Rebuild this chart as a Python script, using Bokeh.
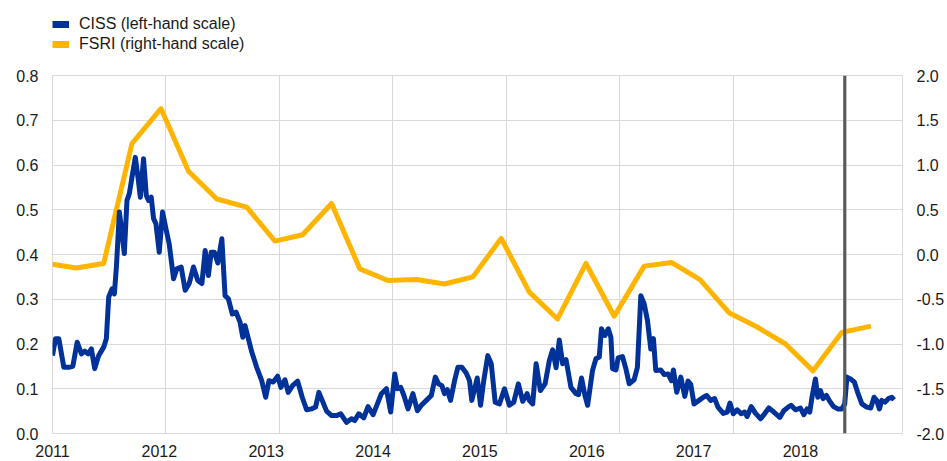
from bokeh.plotting import figure
from bokeh.models import Range1d, LinearAxis, FixedTicker, Span, Legend, LegendItem
from bokeh.layouts import column
from bokeh.embed import file_html
from bokeh.resources import INLINE

# ---------------- data ----------------
ciss_year = [2011.000, 2011.028, 2011.059, 2011.106, 2011.152, 2011.190, 2011.231, 2011.271, 2011.302, 2011.333,
             2011.364, 2011.395, 2011.432, 2011.479, 2011.504, 2011.526, 2011.557, 2011.579, 2011.598, 2011.626,
             2011.651, 2011.672, 2011.697, 2011.719, 2011.744, 2011.775, 2011.800, 2011.822, 2011.852, 2011.878,
             2011.899, 2011.924, 2011.946, 2011.968, 2011.999, 2012.030, 2012.062, 2012.092, 2012.133, 2012.164,
             2012.204, 2012.242, 2012.279, 2012.319, 2012.360, 2012.398, 2012.429, 2012.459, 2012.485, 2012.515,
             2012.547, 2012.585, 2012.615, 2012.646, 2012.683, 2012.718, 2012.755, 2012.781, 2012.802, 2012.865,
             2012.911, 2012.958, 2012.995, 2013.026, 2013.066, 2013.107, 2013.138, 2013.176, 2013.206, 2013.247,
             2013.294, 2013.337, 2013.378, 2013.425, 2013.462, 2013.493, 2013.524, 2013.565, 2013.612, 2013.658,
             2013.698, 2013.752, 2013.798, 2013.829, 2013.866, 2013.913, 2013.953, 2014.000, 2014.047, 2014.078,
             2014.125, 2014.165, 2014.203, 2014.228, 2014.259, 2014.289, 2014.327, 2014.373, 2014.415, 2014.452,
             2014.499, 2014.545, 2014.583, 2014.613, 2014.644, 2014.669, 2014.695, 2014.725, 2014.763, 2014.794,
             2014.831, 2014.872, 2014.903, 2014.924, 2014.975, 2015.006, 2015.036, 2015.074, 2015.106, 2015.143,
             2015.183, 2015.230, 2015.276, 2015.317, 2015.360, 2015.401, 2015.442, 2015.463, 2015.494, 2015.526,
             2015.566, 2015.610, 2015.650, 2015.681, 2015.713, 2015.743, 2015.774, 2015.806, 2015.852, 2015.899,
             2015.923, 2015.951, 2015.983, 2016.008, 2016.054, 2016.086, 2016.117, 2016.138, 2016.170, 2016.201,
             2016.226, 2016.241, 2016.273, 2016.294, 2016.334, 2016.366, 2016.397, 2016.443, 2016.474, 2016.506,
             2016.537, 2016.568, 2016.599, 2016.624, 2016.646, 2016.693, 2016.724, 2016.761, 2016.792, 2016.811,
             2016.842, 2016.880, 2016.917, 2016.948, 2016.973, 2017.004, 2017.050, 2017.091, 2017.122, 2017.160,
             2017.197, 2017.228, 2017.277, 2017.315, 2017.340, 2017.371, 2017.408, 2017.445, 2017.477, 2017.501,
             2017.539, 2017.580, 2017.627, 2017.664, 2017.704, 2017.751, 2017.807, 2017.844, 2017.891, 2017.912,
             2017.953, 2018.000, 2018.031, 2018.062, 2018.087, 2018.108, 2018.140, 2018.162, 2018.187, 2018.211,
             2018.243, 2018.274, 2018.311, 2018.348, 2018.388, 2018.414, 2018.435, 2018.467, 2018.504, 2018.535,
             2018.575, 2018.620, 2018.658, 2018.689, 2018.714, 2018.739, 2018.761, 2018.792, 2018.823, 2018.854,
             2018.876]
ciss_value = [0.174, 0.212, 0.212, 0.148, 0.148, 0.150, 0.204, 0.178, 0.184, 0.178,
              0.189, 0.145, 0.174, 0.193, 0.212, 0.305, 0.323, 0.312, 0.372, 0.495,
              0.446, 0.402, 0.521, 0.536, 0.573, 0.617, 0.573, 0.528, 0.614, 0.532,
              0.521, 0.528, 0.480, 0.469, 0.405, 0.495, 0.457, 0.424, 0.346, 0.368,
              0.372, 0.320, 0.335, 0.372, 0.342, 0.335, 0.409, 0.353, 0.405, 0.405,
              0.381, 0.435, 0.308, 0.301, 0.267, 0.271, 0.249, 0.215, 0.241, 0.182,
              0.148, 0.118, 0.081, 0.118, 0.115, 0.128, 0.103, 0.120, 0.092, 0.107,
              0.117, 0.081, 0.053, 0.055, 0.059, 0.092, 0.074, 0.050, 0.040, 0.040,
              0.044, 0.025, 0.033, 0.029, 0.044, 0.035, 0.060, 0.042, 0.070, 0.089,
              0.100, 0.048, 0.133, 0.100, 0.103, 0.085, 0.055, 0.089, 0.051, 0.063,
              0.074, 0.085, 0.126, 0.111, 0.107, 0.089, 0.098, 0.074, 0.118, 0.148,
              0.148, 0.135, 0.118, 0.074, 0.124, 0.063, 0.118, 0.174, 0.156, 0.070,
              0.066, 0.100, 0.063, 0.070, 0.111, 0.072, 0.089, 0.074, 0.066, 0.156,
              0.096, 0.111, 0.163, 0.187, 0.147, 0.209, 0.156, 0.165, 0.103, 0.089,
              0.087, 0.124, 0.085, 0.063, 0.141, 0.167, 0.171, 0.234, 0.219, 0.234,
              0.215, 0.145, 0.142, 0.169, 0.172, 0.145, 0.111, 0.120, 0.148, 0.308,
              0.290, 0.253, 0.189, 0.212, 0.141, 0.142, 0.132, 0.133, 0.118, 0.142,
              0.092, 0.126, 0.083, 0.117, 0.110, 0.066, 0.074, 0.081, 0.085, 0.074,
              0.078, 0.059, 0.045, 0.048, 0.068, 0.044, 0.053, 0.044, 0.048, 0.038,
              0.060, 0.045, 0.033, 0.044, 0.057, 0.048, 0.036, 0.051, 0.060, 0.063,
              0.053, 0.057, 0.042, 0.055, 0.048, 0.081, 0.122, 0.081, 0.096, 0.078,
              0.085, 0.072, 0.060, 0.055, 0.055, 0.066, 0.126, 0.122, 0.115, 0.092,
              0.066, 0.059, 0.057, 0.081, 0.074, 0.055, 0.074, 0.070, 0.078, 0.081,
              0.075]

fsri_year = [2011.000, 2011.221, 2011.479, 2011.744, 2012.015, 2012.273, 2012.538, 2012.818, 2013.082, 2013.341,
             2013.612, 2013.876, 2014.140, 2014.405, 2014.669, 2014.934, 2015.199, 2015.463, 2015.727, 2015.993,
             2016.257, 2016.537, 2016.796, 2017.060, 2017.331, 2017.595, 2017.860, 2018.118, 2018.388, 2018.659]
fsri_value = [-0.11, -0.15, -0.10, 1.24, 1.63, 0.93, 0.62, 0.53, 0.15, 0.22,
              0.57, -0.16, -0.29, -0.28, -0.33, -0.25, 0.18, -0.42, -0.72, -0.10,
              -0.69, -0.13, -0.09, -0.28, -0.65, -0.81, -1.00, -1.30, -0.87, -0.80]

year_ticks = [2011, 2012, 2013, 2014, 2015, 2016, 2017, 2018]
year_labels = ["2011", "2012", "2013", "2014", "2015", "2016", "2017", "2018"]
x_grid_ticks = [2012.062, 2013.124, 2014.185, 2015.247, 2016.308, 2017.370, 2018.431]
left_ticks = [0.0, 0.1, 0.2, 0.3, 0.4, 0.5, 0.6, 0.7, 0.8]
left_labels = ["0.0", "0.1", "0.2", "0.3", "0.4", "0.5", "0.6", "0.7", "0.8"]
right_ticks = [-2.0, -1.5, -1.0, -0.5, 0.0, 0.5, 1.0, 1.5, 2.0]
right_labels = ["-2.0", "-1.5", "-1.0", "-0.5", "0.0", "0.5", "1.0", "1.5", "2.0"]
marker_date = 2018.414
series_names = ["CISS (left-hand scale)", "FSRI (right-hand scale)"]

# ---------------- style ----------------
BLUE = "#003299"
YELLOW = "#FFB400"
GRID = "#d9d9d9"
TXT = "#1a1a1a"
FONT = "Liberation Sans"

x_range = Range1d(2011, 2018.955)

# ---------------- legend strip (top) ----------------
# The legend strip shares the x range; its y range lies far away from the data,
# so the helper renderers (which only supply the legend glyphs) stay invisible.
top = figure(width=947, height=60, output_backend="svg", toolbar_location=None,
             x_range=x_range, y_range=Range1d(50, 51),
             x_axis_location=None, y_axis_location=None,
             min_border_left=0, min_border_right=0, min_border_top=0, min_border_bottom=0)
top.outline_line_color = None
top.xgrid.visible = False
top.ygrid.visible = False
top.background_fill_color = "white"
top.border_fill_color = "white"
l1 = top.line(ciss_year, ciss_value, line_color=BLUE, line_width=7)
l2 = top.line(fsri_year, fsri_value, line_color=YELLOW, line_width=7)
legend = Legend(items=[LegendItem(label=series_names[0], renderers=[l1]),
                       LegendItem(label=series_names[1], renderers=[l2])],
                location=(0, 6), orientation="vertical",
                glyph_width=17, glyph_height=20, label_height=20, label_standoff=10,
                spacing=0, padding=0, margin=0,
                border_line_color=None, background_fill_alpha=0,
                label_text_font=FONT, label_text_font_size="16px", label_text_color=TXT)
top.add_layout(legend, "center")

# ---------------- main chart ----------------
p = figure(width=947, height=401, output_backend="svg", toolbar_location=None,
           x_range=x_range, y_range=Range1d(0, 0.8),
           min_border_left=52, min_border_right=43, min_border_top=15, min_border_bottom=28)
p.extra_y_ranges = {"fsri": Range1d(-2, 2)}
p.background_fill_color = "white"
p.border_fill_color = "white"
p.outline_line_color = GRID
p.outline_line_width = 1

p.xgrid.ticker = FixedTicker(ticks=x_grid_ticks)
p.ygrid.ticker = FixedTicker(ticks=left_ticks)
p.xgrid.grid_line_color = GRID
p.ygrid.grid_line_color = GRID
p.xgrid.grid_line_width = 1
p.ygrid.grid_line_width = 1

xa = p.xaxis[0]
xa.ticker = FixedTicker(ticks=year_ticks)
xa.major_label_overrides = {t: l for t, l in zip(year_ticks, year_labels)}

ya = p.yaxis[0]
ya.ticker = FixedTicker(ticks=left_ticks)
ya.major_label_overrides = {t: l for t, l in zip(left_ticks, left_labels)}

ra = LinearAxis(y_range_name="fsri", ticker=FixedTicker(ticks=right_ticks))
ra.major_label_overrides = {t: l for t, l in zip(right_ticks, right_labels)}
p.add_layout(ra, "right")

for ax in (xa, ya, ra):
    ax.axis_line_color = None
    ax.major_tick_line_color = None
    ax.minor_tick_line_color = None
    ax.major_tick_in = 0
    ax.major_tick_out = 0
    ax.minor_tick_in = 0
    ax.minor_tick_out = 0
    ax.major_label_text_font = FONT
    ax.major_label_text_font_size = "16px"
    ax.major_label_text_color = TXT
xa.major_label_standoff = 11
ya.major_label_standoff = 14
ra.major_label_standoff = 14

p.line(fsri_year, fsri_value, y_range_name="fsri", line_color=YELLOW, line_width=5, line_join="round")
p.line(ciss_year, ciss_value, line_color=BLUE, line_width=5, line_join="round")

p.add_layout(Span(location=marker_date, dimension="height", line_color="#5a5a5a", line_width=3))

layout = column(top, p, spacing=0)
open("out.html", "w").write(file_html(layout, INLINE))
